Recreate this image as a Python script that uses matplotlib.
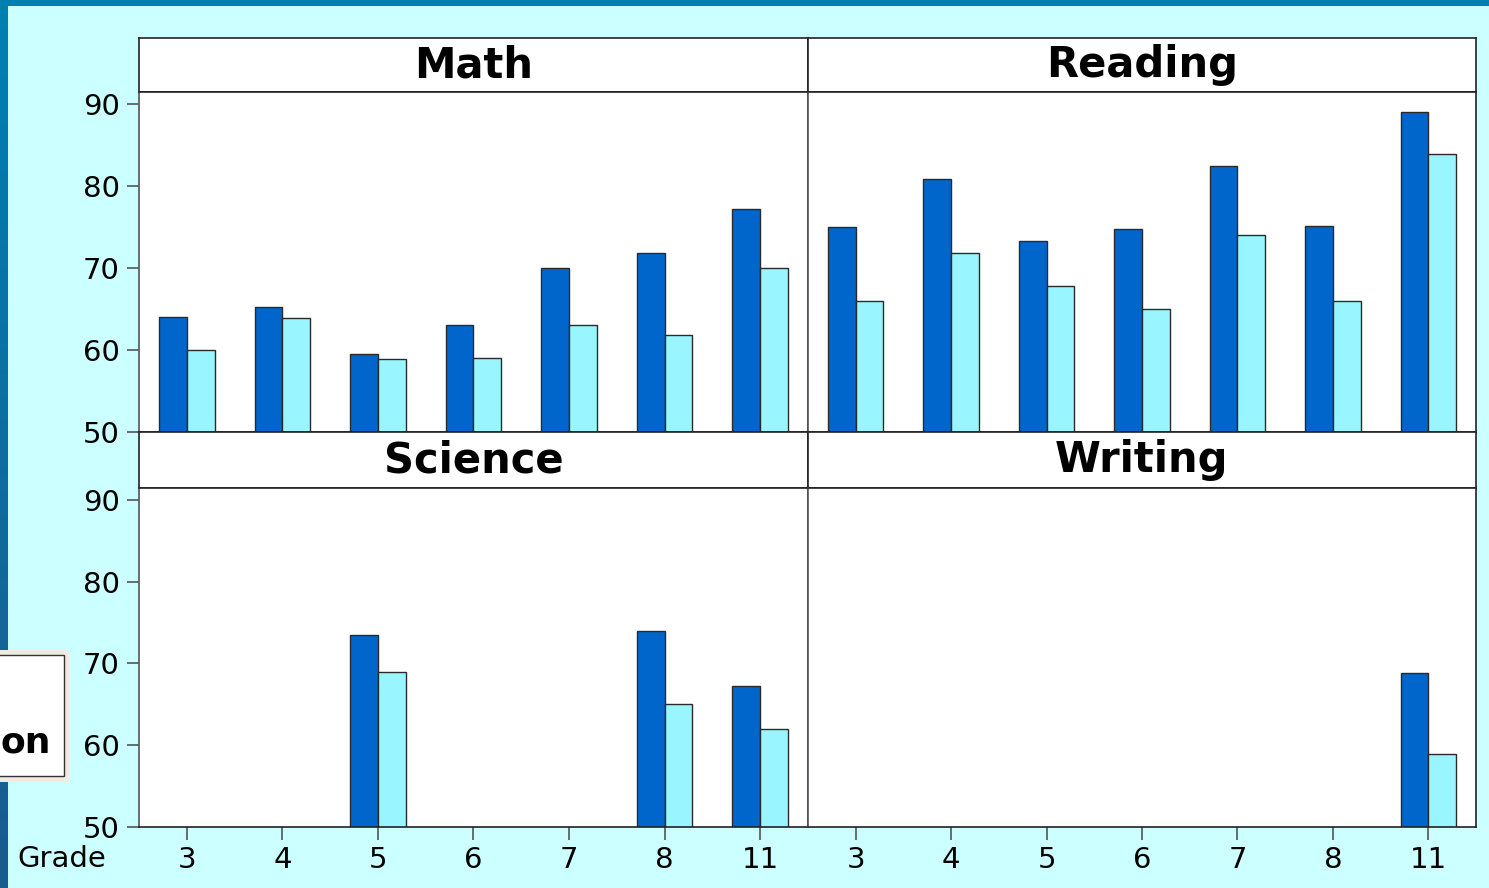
import numpy as np
import matplotlib
matplotlib.use("Agg")
import matplotlib.pyplot as plt
from matplotlib.patches import Rectangle
from matplotlib.colors import LinearSegmentedColormap

grades = ["3", "4", "5", "6", "7", "8", "11"]
subjects = ["Math", "Reading", "Science", "Writing"]
dark_vals = {
    "Math":    [64.0, 65.2, 59.5, 63.0, 70.0, 71.8, 77.2],
    "Reading": [75.0, 80.8, 73.3, 74.8, 82.4, 75.1, 89.0],
    "Science": [np.nan, np.nan, 73.5, np.nan, np.nan, 74.0, 67.2],
    "Writing": [np.nan, np.nan, np.nan, np.nan, np.nan, np.nan, 68.8],
}
light_vals = {
    "Math":    [60.0, 63.9, 58.9, 59.0, 63.0, 61.8, 70.0],
    "Reading": [66.0, 71.8, 67.8, 65.0, 74.0, 66.0, 83.9],
    "Science": [np.nan, np.nan, 69.0, np.nan, np.nan, 65.0, 62.0],
    "Writing": [np.nan, np.nan, np.nan, np.nan, np.nan, np.nan, 58.9],
}
yticks = [50, 60, 70, 80, 90]

W, H = 1489, 888
fig = plt.figure(figsize=(W / 100, H / 100), dpi=100)
fig.patch.set_facecolor("#ccffff")

def fx(px):
    return px / W

def fy(py):
    return 1 - py / H

# decorative strips
strip = fig.add_axes([0, 0, fx(8), 1])
grad = np.linspace(0, 1, 256).reshape(-1, 1)
cm = LinearSegmentedColormap.from_list("s", ["#0080b2", "#1a5c8e"])
strip.imshow(grad, aspect="auto", cmap=cm, extent=[0, 1, 0, 1], origin="upper")
strip.axis("off")
fig.patches.append(Rectangle((0, fy(6)), 1, 6 / H, transform=fig.transFigure,
                             facecolor="#0080b2", edgecolor="none", zorder=1))

DARK = "#0066cc"
LIGHT = "#99f5ff"
EDGE = "#2a2a2a"

left_px = [139, 808]
right_px = [808, 1476]
rows = [(38, 92, 432), (432, 488, 827)]  # header top, plot top, plot bottom

ymax = 50 + (432 - 92) / 8.2
x = np.arange(len(grades))
bw = 0.29

for r, (ht, pt, pb) in enumerate(rows):
    for c in range(2):
        subj = subjects[r * 2 + c]
        l, rr = left_px[c], right_px[c]
        # header
        hax = fig.add_axes([fx(l), fy(pt), fx(rr - l), (pt - ht) / H])
        hax.set_facecolor("white")
        hax.set_xticks([]); hax.set_yticks([])
        for s in hax.spines.values():
            s.set_color("#222222"); s.set_linewidth(1.2)
        hax.text(0.5, 0.5, subj, ha="center", va="center", fontsize=30,
                 fontweight="bold", transform=hax.transAxes, color="black")
        # plot
        ax = fig.add_axes([fx(l), fy(pb), fx(rr - l), (pb - pt) / H])
        ax.set_facecolor("white")
        ax.bar(x - bw / 2, dark_vals[subj], bw, color=DARK, edgecolor=EDGE, linewidth=1)
        ax.bar(x + bw / 2, light_vals[subj], bw, color=LIGHT, edgecolor=EDGE, linewidth=1)
        ax.set_xlim(-0.5, len(grades) - 0.5)
        ax.set_ylim(50, ymax)
        for s in ax.spines.values():
            s.set_color("#222222"); s.set_linewidth(1.2)
        ax.spines["left"].set_color("#555555")
        ax.tick_params(colors="#555555", labelcolor="black", labelsize=21,
                       length=9, width=1.2, direction="out")
        if c == 0:
            ax.set_yticks(yticks)
            ax.set_yticklabels([str(v) for v in yticks])
            ax.tick_params(axis="y", pad=5)
        else:
            ax.set_yticks([])
        if r == 1:
            ax.set_xticks(x)
            ax.set_xticklabels(grades)
            ax.tick_params(axis="x", pad=5)
        else:
            ax.set_xticks([])

fig.text(fx(17), fy(859), "Grade", ha="left", va="center", fontsize=21, color="black")

# partially visible legend box at left edge
fig.patches.append(Rectangle((0, fy(782)), fx(69), (782 - 650) / H, transform=fig.transFigure,
                             facecolor="#f0ebe0", edgecolor="none", zorder=5))
fig.patches.append(Rectangle((-0.01, fy(776)), fx(64) + 0.01, (776 - 655) / H, transform=fig.transFigure,
                             facecolor="white", edgecolor="#333333", linewidth=1, zorder=6))
fig.text(fx(1), fy(742), "on", ha="left", va="center", fontsize=26,
         fontweight="bold", color="black", zorder=7)

fig.savefig("out.png", dpi=100, facecolor=fig.get_facecolor())
